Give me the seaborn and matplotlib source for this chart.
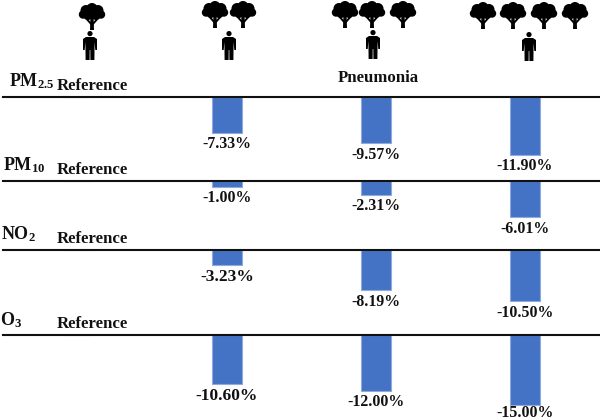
import matplotlib
matplotlib.use('Agg')
import matplotlib.pyplot as plt
from matplotlib.patches import Circle, Polygon
import seaborn as sns
import pandas as pd

# data
groups = ['Reference', 'Two trees', 'Three trees', 'Four trees']
pollutants = ['PM2.5', 'PM10', 'NO2', 'O3']
pm25 = [0, -7.33, -9.57, -11.90]
pm10 = [0, -1.00, -2.31, -6.01]
no2 = [0, -3.23, -8.19, -10.50]
o3 = [0, -10.60, -12.00, -15.00]

# layout, in reference pixels
W, H = 600, 420
baselines = [97, 181, 249.5, 335, 420]
px_per_pct = [4.85, 6.0, 4.95, 4.65]
name_labels = [r'$\mathbf{PM_{2.5}}$', r'$\mathbf{PM_{10}}$', r'$\mathbf{NO_{2}}$', r'$\mathbf{O_{3}}$']
name_xy = [(9, 81), (3, 165), (1, 234), (0, 320)]
ref_y = [86, 170, 239, 324]
big_labels = [-3.23, -10.60]  # these two are set a bit larger in the original

sns.set_theme(style='white')
plt.rcParams['font.family'] = ['Liberation Serif', 'DejaVu Serif']
plt.rcParams['font.weight'] = 'bold'
plt.rcParams['mathtext.fontset'] = 'custom'
plt.rcParams['mathtext.bf'] = 'Liberation Serif:bold'
plt.rcParams['mathtext.rm'] = 'Liberation Serif:bold'

fig = plt.figure(figsize=(6, 4.2), dpi=100, facecolor='white')


def draw_tree(ax, x, y):
    # y is the top of the crown
    for dx, dy, r in [(0, 5.5, 5.5), (-6, 7.5, 5.5), (6, 7.5, 5.5), (-9, 11.5, 4.2), (9, 11.5, 4.2), (-4, 12, 5), (4, 12, 5)]:
        ax.add_patch(Circle((x + dx, y + dy), r, fc='black', ec='none'))
    ax.add_patch(Polygon([(x - 1.6, y + 15), (x + 1.6, y + 15), (x + 2, y + 27), (x - 2, y + 27)], fc='black', ec='none'))
    ax.add_patch(Polygon([(x - 7.5, y + 15), (x - 5, y + 15), (x + 0.5, y + 21), (x + 0.5, y + 24)], fc='black', ec='none'))
    ax.add_patch(Polygon([(x + 7.5, y + 15), (x + 5, y + 15), (x - 0.5, y + 21), (x - 0.5, y + 24)], fc='black', ec='none'))


def draw_person(ax, x, y):
    # y is the top of the head
    ax.add_patch(Circle((x, y + 2.6), 2.6, fc='black', ec='none'))
    body = [(x - 4, y + 6), (x + 4, y + 6), (x + 7, y + 8), (x + 7, y + 19), (x + 5.3, y + 19), (x + 4.6, y + 11),
            (x + 4.4, y + 29), (x + 0.4, y + 29), (x + 0.3, y + 19), (x - 0.3, y + 19), (x - 0.4, y + 29),
            (x - 4.4, y + 29), (x - 4.6, y + 11), (x - 5.3, y + 19), (x - 7, y + 19), (x - 7, y + 8)]
    ax.add_patch(Polygon(body, fc='black', ec='none'))


series = [pm25, pm10, no2, o3]
for i, vals in enumerate(series):
    top = baselines[i]
    bottom = baselines[i + 1]
    ax = fig.add_axes([3 / W, 1 - bottom / H, 597 / W, (bottom - top) / H])
    ax.patch.set_visible(False)
    dat = pd.DataFrame({'group': groups, 'change': vals})
    sns.barplot(data=dat, x='group', y='change', order=groups, color='#4472C4', saturation=1,
                width=0.2, edgecolor='#8FAADC', linewidth=0.8, ax=ax)
    ax.set_xlim(-0.503, 3.503)
    ax.set_ylim(-(bottom - top) / px_per_pct[i], 0)
    ax.set_xlabel('')
    ax.set_ylabel('')
    ax.set_xticks([])
    ax.set_yticks([])
    for s in ['left', 'right', 'bottom']:
        ax.spines[s].set_visible(False)
    ax.spines['top'].set_linewidth(1.5)
    ax.spines['top'].set_color('#111111')
    txts = ax.bar_label(ax.containers[0], labels=['' if v == 0 else '%.2f%%' % v for v in vals],
                        fontsize=11.4, fontweight='bold', color='#111111', padding=2.5)
    for t, v in zip(txts, vals):
        if v in big_labels:
            t.set_fontsize(12.6)
        if v == -15.00:
            # sits right on the bottom edge
            t.xyann = (0, -0.2)

# overlay in pixel coordinates for the icons and free text
ov = fig.add_axes([0, 0, 1, 1])
ov.set_xlim(0, W)
ov.set_ylim(H, 0)
ov.axis('off')
ov.patch.set_visible(False)

for lab, (x, y), ry in zip(name_labels, name_xy, ref_y):
    ov.text(x, y, lab, fontsize=13, va='center', ha='left', color='#111111')
    ov.text(57, ry, 'Reference', fontsize=12.1, fontweight='bold', va='center', ha='left', color='#111111')
ov.text(378, 78, 'Pneumonia', fontsize=12.1, fontweight='bold', va='center', ha='center', color='#111111')

for x in [92]:
    draw_tree(ov, x, 3)
for x in [215, 243]:
    draw_tree(ov, x, 1)
for x in [345, 372, 403]:
    draw_tree(ov, x, 1)
for x in [483, 513, 544, 575]:
    draw_tree(ov, x, 2)
for x, y in [(90, 31), (229, 31), (373, 30), (529, 32)]:
    draw_person(ov, x, y)

fig.savefig('out.png', dpi=100)
